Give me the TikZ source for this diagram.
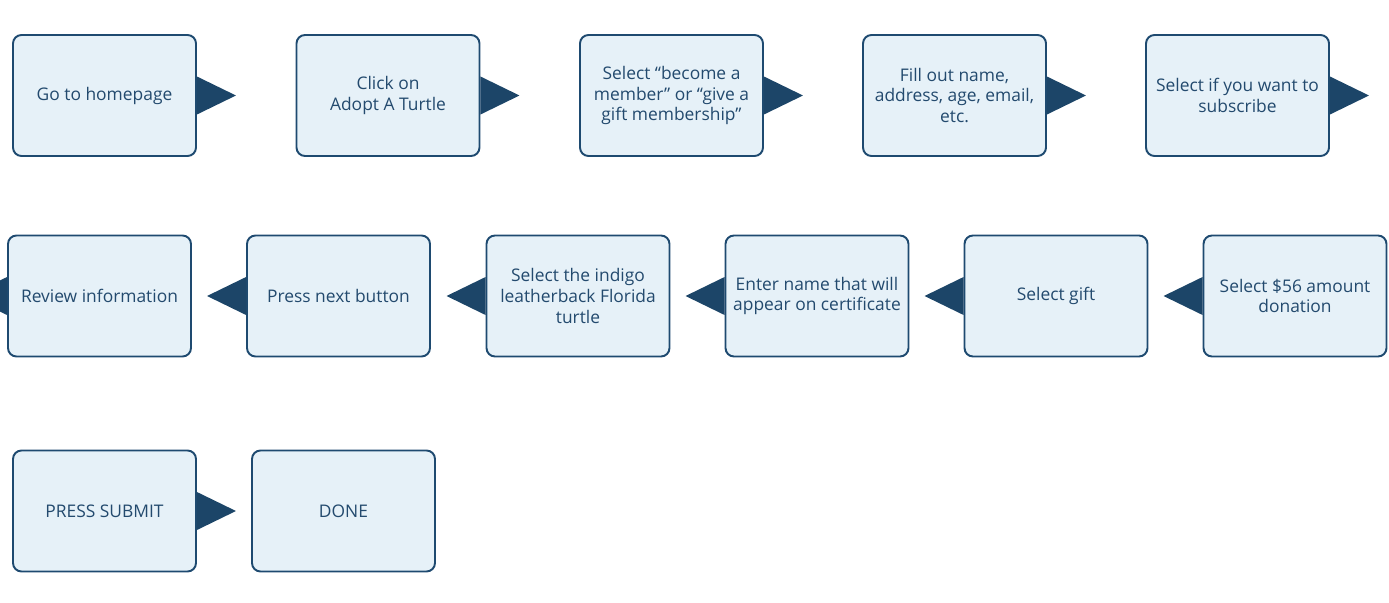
\documentclass[tikz,border=0pt]{standalone}
\usepackage{fontspec}
\setmainfont{Open Sans}
\definecolor{boxfill}{HTML}{E6F1F8}
\definecolor{boxline}{HTML}{1E4A70}
\definecolor{fleche}{HTML}{1C4568}
\definecolor{texte}{HTML}{234A6E}
\tikzset{
  etape/.style={draw=boxline, line width=1.1pt, fill=boxfill, rounded corners=0.17cm,
    minimum width=3.66cm, minimum height=2.42cm, align=center, text=texte,
    font=\fontsize{9.9}{11.9}\selectfont},
  pointe/.style={fill=fleche}
}
\begin{document}
\begin{tikzpicture}

    \useasboundingbox (0,0) rectangle (27.78,-12.04);

    % Premiere ligne
    \node[etape] (home) at (2.09,-1.91) {Go to homepage};
    \node[etape] (adopt) at (7.76,-1.91) {Click on\\Adopt A Turtle};
    \node[etape] (member) at (13.43,-1.91) {Select “become a\\member” or “give a\\gift membership”};
    \node[etape] (fill) at (19.09,-1.91) {Fill out name,\\address, age, email,\\etc.};
    \node[etape] (subscribe) at (24.75,-1.91) {Select if you want to\\subscribe};

    % Deuxieme ligne
    \node[etape] (review) at (1.99,-5.92) {Review information};
    \node[etape] (next) at (6.77,-5.92) {Press next button};
    \node[etape] (indigo) at (11.56,-5.92) {Select the indigo\\leatherback Florida\\turtle};
    \node[etape] (certif) at (16.34,-5.92) {Enter name that will\\appear on certificate};
    \node[etape] (gift) at (21.12,-5.92) {Select gift};
    \node[etape] (amount) at (25.90,-5.92) {Select \$56 amount\\donation};

    % Troisieme ligne
    \node[etape] (submit) at (2.09,-10.22) {PRESS SUBMIT};
    \node[etape] (done) at (6.87,-10.22) {DONE};

    % Pointes vers la droite
    \fill[pointe] ([yshift=0.38cm]home.east) -- ([xshift=0.78cm]home.east) -- ([yshift=-0.38cm]home.east) -- cycle;
    \fill[pointe] ([yshift=0.38cm]adopt.east) -- ([xshift=0.78cm]adopt.east) -- ([yshift=-0.38cm]adopt.east) -- cycle;
    \fill[pointe] ([yshift=0.38cm]member.east) -- ([xshift=0.78cm]member.east) -- ([yshift=-0.38cm]member.east) -- cycle;
    \fill[pointe] ([yshift=0.38cm]fill.east) -- ([xshift=0.78cm]fill.east) -- ([yshift=-0.38cm]fill.east) -- cycle;
    \fill[pointe] ([yshift=0.38cm]subscribe.east) -- ([xshift=0.78cm]subscribe.east) -- ([yshift=-0.38cm]subscribe.east) -- cycle;
    \fill[pointe] ([yshift=0.38cm]submit.east) -- ([xshift=0.78cm]submit.east) -- ([yshift=-0.38cm]submit.east) -- cycle;

    % Pointes vers la gauche
    \fill[pointe] ([yshift=0.38cm]amount.west) -- ([xshift=-0.78cm]amount.west) -- ([yshift=-0.38cm]amount.west) -- cycle;
    \fill[pointe] ([yshift=0.38cm]gift.west) -- ([xshift=-0.78cm]gift.west) -- ([yshift=-0.38cm]gift.west) -- cycle;
    \fill[pointe] ([yshift=0.38cm]certif.west) -- ([xshift=-0.78cm]certif.west) -- ([yshift=-0.38cm]certif.west) -- cycle;
    \fill[pointe] ([yshift=0.38cm]indigo.west) -- ([xshift=-0.78cm]indigo.west) -- ([yshift=-0.38cm]indigo.west) -- cycle;
    \fill[pointe] ([yshift=0.38cm]next.west) -- ([xshift=-0.78cm]next.west) -- ([yshift=-0.38cm]next.west) -- cycle;
    \fill[pointe] ([yshift=0.38cm]review.west) -- ([xshift=-0.78cm]review.west) -- ([yshift=-0.38cm]review.west) -- cycle;

\end{tikzpicture}
\end{document}
